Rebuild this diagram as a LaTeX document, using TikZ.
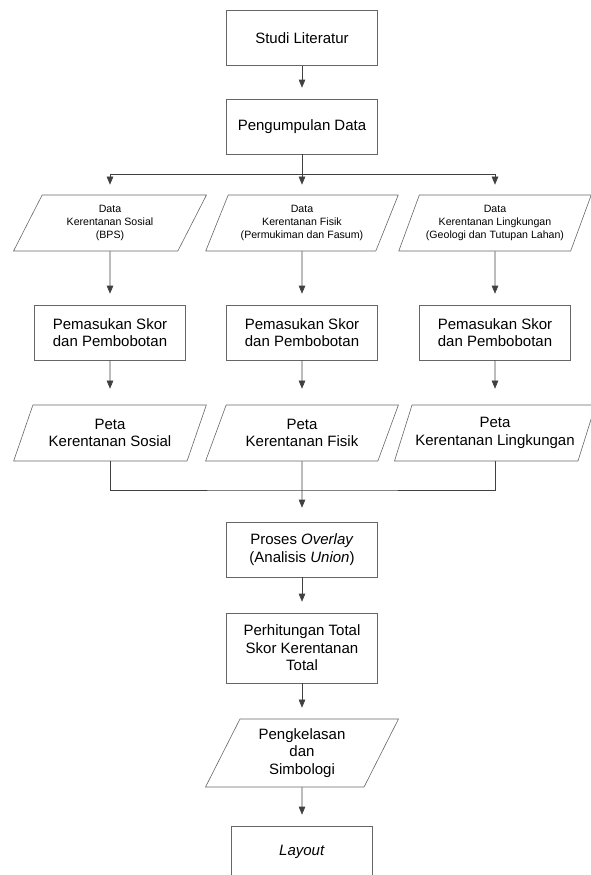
\documentclass[tikz,border=0pt]{standalone}
\usepackage{fontspec}
\setmainfont{Liberation Sans}
\usetikzlibrary{positioning,arrows.meta,shapes.geometric}

\begin{document}
\begin{tikzpicture}[x=1pt, y=-1pt,
  box/.style={draw=black!60, line width=0.6pt, minimum width=151pt, minimum height=55pt,
              align=center, font=\fontsize{15}{17.5}\selectfont},
  para/.style={draw=black!60, line width=0.6pt, trapezium, trapezium left angle=65,
               trapezium right angle=115, trapezium stretches=true, minimum width=193pt,
               minimum height=56pt, align=center, font=\fontsize{15}{17.5}\selectfont},
  small/.style={font=\fontsize{10.6}{13}\selectfont},
  line/.style={draw=black!75, line width=0.6pt},
  arrow/.style={line, -{Triangle[length=8pt,width=6.5pt]}, shorten >=11pt}
]
  \useasboundingbox (0,0) rectangle (590,875);

  \node[box] (studi) at (302,38) {Studi Literatur};
  \node[box] (kumpul) at (302,126.5) {Pengumpulan Data};
  \coordinate (split) at (302,174);

  \node[para, small] (dsosial) at (110,223) {Data\\Kerentanan Sosial\\(BPS)};
  \node[para, small] (dfisik) at (302,223) {Data\\Kerentanan Fisik\\(Permukiman dan Fasum)};
  \node[para, small] (dling) at (495,223) {Data\\Kerentanan Lingkungan\\(Geologi dan Tutupan Lahan)};

  \node[box] (skorsosial) at (110,332.5) {Pemasukan Skor\\dan Pembobotan};
  \node[box] (skorfisik) at (302,332.5) {Pemasukan Skor\\dan Pembobotan};
  \node[box] (skorling) at (495,332.5) {Pemasukan Skor\\dan Pembobotan};

  \node[para] (psosial) at (110,433) {Peta\\Kerentanan Sosial};
  \node[para] (pfisik) at (302,433) {Peta\\Kerentanan Fisik};
  \node[para] (pling) at (495,433) {Peta\\Kerentanan Lingkungan};
  \coordinate (merge) at (302,490);

  \node[box] (proses) at (302,549.5) {Proses \textit{Overlay}\\(Analisis \textit{Union})};
  \node[box, minimum height=70pt] (hitung) at (302,648) {Perhitungan Total\\Skor Kerentanan\\Total};
  \node[para, minimum height=68pt] (kelas) at (302,753) {Pengkelasan\\dan\\Simbologi};
  \node[box, minimum width=141pt, minimum height=52pt] (layout) at (302,852) {\textit{Layout}};

  \draw[arrow] (studi) -- (kumpul);
  \draw[line] (kumpul) -- (split);
  \draw[arrow, shorten >=10pt] (split) -| (dsosial);
  \draw[arrow, shorten >=10pt] (split) -- (dfisik);
  \draw[arrow, shorten >=10pt] (split) -| (dling);

  \draw[arrow] (dsosial) -- (skorsosial);
  \draw[arrow] (dfisik) -- (skorfisik);
  \draw[arrow] (dling) -- (skorling);
  \draw[arrow, shorten >=16pt] (skorsosial) -- (psosial);
  \draw[arrow, shorten >=16pt] (skorfisik) -- (pfisik);
  \draw[arrow, shorten >=16pt] (skorling) -- (pling);

  \draw[line] (psosial.south) |- (merge) -| (pling.south);
  \draw[arrow, shorten >=14pt] (pfisik) -- (proses);
  \draw[arrow] (proses) -- (hitung);
  \draw[arrow] (hitung) -- (kelas);
  \draw[arrow] (kelas) -- (layout);
\end{tikzpicture}
\end{document}
